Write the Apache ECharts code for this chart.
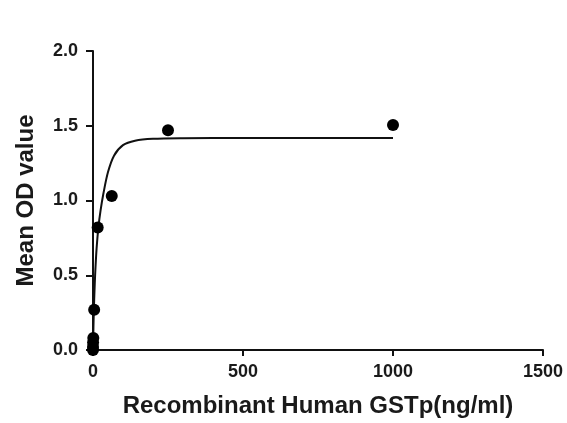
<!DOCTYPE html>
<html>
<head>
<meta charset="utf-8">
<script src="https://cdn.jsdelivr.net/npm/echarts@6/dist/echarts.min.js"></script>
<style>
html,body{margin:0;padding:0;background:#fff;}
#c{width:567px;height:423px;}
</style>
</head>
<body>
<div id="c"></div>
<script>
const pointX = [1000, 250, 62.5, 15.6, 3.9, 0.98, 0.24, 0.06, 0];
const pointY = [1.505, 1.47, 1.03, 0.82, 0.27, 0.08, 0.05, 0.02, 0.0];
const curveX = [0, 1, 2, 4, 6, 8, 12, 18, 25, 35, 50, 70, 100, 140, 200, 300, 500, 1000];
const curveY = [0.0, 0.1, 0.2, 0.34, 0.45, 0.54, 0.68, 0.82, 0.93, 1.05, 1.19, 1.3, 1.37, 1.4, 1.413, 1.417, 1.418, 1.418];
const xTicks = [0, 500, 1000, 1500];
const yTicks = [0, 0.5, 1.0, 1.5, 2.0];

const chart = echarts.init(document.getElementById('c'), null, {renderer: 'canvas'});
const font = 'Liberation Sans, Arial, sans-serif';
chart.setOption({
  backgroundColor: '#ffffff',
  animation: false,
  grid: {left: 93, right: 24, top: 51, bottom: 73},
  xAxis: {
    type: 'value', min: xTicks[0], max: xTicks[xTicks.length - 1], interval: 500,
    name: 'Recombinant Human GSTp(ng/ml)', nameLocation: 'middle', nameGap: 44,
    nameTextStyle: {fontFamily: font, fontWeight: 'bold', fontSize: 24, color: '#1a1a1a'},
    axisLine: {show: true, lineStyle: {color: '#111', width: 2}},
    axisTick: {show: true, length: 6, lineStyle: {color: '#111', width: 2}},
    axisLabel: {fontFamily: font, fontWeight: 'bold', fontSize: 18, color: '#1a1a1a', margin: 13,
      formatter: v => String(v)},
    splitLine: {show: false}
  },
  yAxis: {
    type: 'value', min: yTicks[0], max: yTicks[yTicks.length - 1], interval: 0.5,
    name: 'Mean OD value', nameLocation: 'middle', nameGap: 55, nameRotate: 90,
    nameTextStyle: {fontFamily: font, fontWeight: 'bold', fontSize: 24, color: '#1a1a1a'},
    axisLine: {show: true, lineStyle: {color: '#111', width: 2}},
    axisTick: {show: true, length: 7, lineStyle: {color: '#111', width: 2}},
    axisLabel: {fontFamily: font, fontWeight: 'bold', fontSize: 18, color: '#1a1a1a', margin: 15,
      formatter: v => v.toFixed(1)},
    splitLine: {show: false}
  },
  series: [
    {
      type: 'line', data: curveX.map((x, i) => [x, curveY[i]]),
      smooth: 0.3, showSymbol: false, symbol: 'none',
      lineStyle: {color: '#111', width: 2}, z: 2
    },
    {
      type: 'scatter', data: pointX.map((x, i) => [x, pointY[i]]),
      symbol: 'circle', symbolSize: 12,
      itemStyle: {color: '#000', opacity: 1}, z: 3
    }
  ]
});
</script>
</body>
</html>
